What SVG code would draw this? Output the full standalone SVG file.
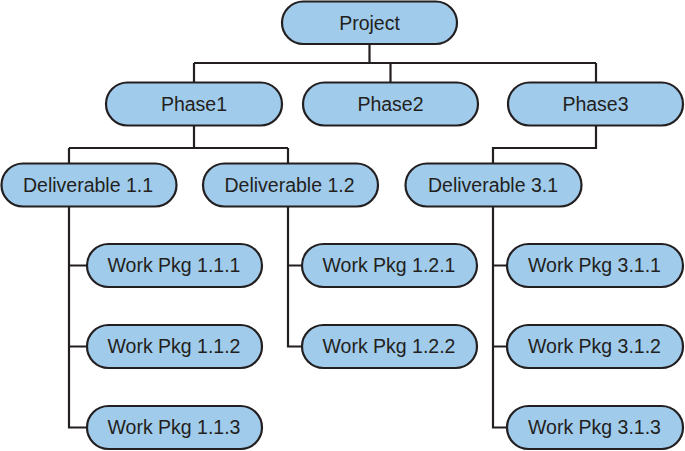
<svg xmlns="http://www.w3.org/2000/svg" width="685" height="451" viewBox="0 0 685 451">
<style>
.n rect{fill:#a0cbeb;stroke:#231f20;stroke-width:2.2}
.n text{font-family:"Liberation Sans",Arial,sans-serif;font-size:19.5px;fill:#231f20;text-anchor:middle}
#edges path{fill:none;stroke:#231f20;stroke-width:2.2}
</style>
<rect width="685" height="451" fill="#ffffff"/>
<g id="edges">
<path d="M369.5 44V63M194 63H596M194 63V82M390.5 63V82M596 63V82"/>
<path d="M194 126V148M69 148H288M69 148V163M288 148V163"/>
<path d="M596 126V148H493V163"/>
<path d="M69 207V427.5H87M69 265.5H87M69 346.5H87"/>
<path d="M288 207V346.5H302M288 265.5H302"/>
<path d="M493 207V427.5H507M493 265.5H507M493 346.5H507"/>
</g>
<g id="project" class="n"><rect x="282" y="1.5" width="175" height="42.5" rx="21.25"/><text x="369.5" y="29.5">Project</text></g>
<g id="phase1" class="n"><rect x="106" y="82.5" width="176" height="43" rx="21.5"/><text x="194" y="110.8">Phase1</text></g>
<g id="phase2" class="n"><rect x="303" y="82.5" width="175" height="43" rx="21.5"/><text x="390.5" y="110.8">Phase2</text></g>
<g id="phase3" class="n"><rect x="508" y="82.5" width="175" height="43" rx="21.5"/><text x="595.5" y="110.8">Phase3</text></g>
<g id="del11" class="n"><rect x="1.5" y="163.5" width="175" height="43" rx="21.5"/><text x="88" y="191.8">Deliverable 1.1</text></g>
<g id="del12" class="n"><rect x="203" y="163.5" width="175" height="43" rx="21.5"/><text x="289.5" y="191.8">Deliverable 1.2</text></g>
<g id="del31" class="n"><rect x="405.5" y="163.5" width="176" height="43" rx="21.5"/><text x="493" y="191.8">Deliverable 3.1</text></g>
<g id="wp111" class="n"><rect x="87" y="244" width="175" height="43" rx="21.5"/><text x="174" y="272.3">Work Pkg 1.1.1</text></g>
<g id="wp112" class="n"><rect x="87" y="325" width="175" height="43" rx="21.5"/><text x="174" y="353.3">Work Pkg 1.1.2</text></g>
<g id="wp113" class="n"><rect x="87" y="406" width="175" height="43" rx="21.5"/><text x="174" y="434.3">Work Pkg 1.1.3</text></g>
<g id="wp121" class="n"><rect x="302" y="244" width="175" height="43" rx="21.5"/><text x="389" y="272.3">Work Pkg 1.2.1</text></g>
<g id="wp122" class="n"><rect x="302" y="325" width="175" height="43" rx="21.5"/><text x="389" y="353.3">Work Pkg 1.2.2</text></g>
<g id="wp311" class="n"><rect x="507" y="244" width="176" height="43" rx="21.5"/><text x="594.5" y="272.3">Work Pkg 3.1.1</text></g>
<g id="wp312" class="n"><rect x="507" y="325" width="176" height="43" rx="21.5"/><text x="594.5" y="353.3">Work Pkg 3.1.2</text></g>
<g id="wp313" class="n"><rect x="507" y="406" width="176" height="43" rx="21.5"/><text x="594.5" y="434.3">Work Pkg 3.1.3</text></g>
</svg>
